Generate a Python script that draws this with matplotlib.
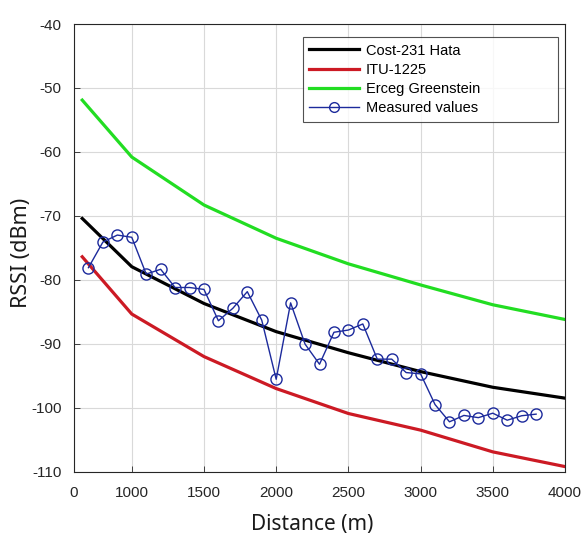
import matplotlib
matplotlib.use("Agg")
import matplotlib.pyplot as plt

plt.rcParams["axes.unicode_minus"] = False

# ---- data ----
model_dist = [657, 1000, 1500, 2000, 2500, 3000, 3500, 4000]
cost231 = [-70.4, -77.95, -83.7, -88.1, -91.4, -94.35, -96.8, -98.5]
itu1225 = [-76.4, -85.35, -92.0, -97.0, -100.9, -103.5, -106.9, -109.2]
erceg = [-51.9, -60.8, -68.3, -73.5, -77.5, -80.8, -83.9, -86.2]

meas_dist = list(range(700, 3900, 100))
measured = [-78.1, -74.1, -73.0, -73.35, -79.1, -78.35, -81.2, -81.2, -81.5,
            -86.4, -84.45, -81.85, -86.3, -95.55, -83.6, -90.05, -93.2,
            -88.2, -87.85, -86.9, -92.4, -92.4, -94.5, -94.7, -99.5,
            -102.2, -101.2, -101.55, -100.85, -101.95, -101.25, -101.0]

xtick_pos = [600, 1000, 1500, 2000, 2500, 3000, 3500, 4000]
xtick_labels = ["0", "1000", "1500", "2000", "2500", "3000", "3500", "4000"]
yticks = [-40, -50, -60, -70, -80, -90, -100, -110]

# ---- plot ----
fig = plt.figure(figsize=(5.84, 5.38), dpi=100)
ax = fig.add_axes([74/584, 1-471.7/538, (565-74)/584, (471.7-24)/538])

ax.plot(model_dist, cost231, color="#000000", lw=2.3, label="Cost-231 Hata")
ax.plot(model_dist, itu1225, color="#cc1a24", lw=2.3, label="ITU-1225")
ax.plot(model_dist, erceg, color="#22dd22", lw=2.3, label="Erceg Greenstein")
ax.plot(meas_dist, measured, color="#1c2a9c", lw=1.0, marker="o", ms=8,
        mfc="none", mec="#1c2a9c", mew=1.0, label="Measured values")

ax.set_xlim(600, 4000)
ax.set_ylim(-110, -40)
ax.set_xticks(xtick_pos)
ax.set_xticklabels(xtick_labels)
ax.set_yticks(yticks)

for lab in ax.get_xticklabels() + ax.get_yticklabels():
    lab.set_fontfamily("Liberation Sans")
    lab.set_fontsize(11)
    lab.set_color("#262626")

ax.tick_params(direction="in", length=4, width=0.6, color="#262626")
ax.tick_params(axis="x", pad=10)
ax.tick_params(axis="y", pad=9)
ax.grid(True, color="#d9d9d9", lw=0.8)
ax.set_axisbelow(True)
for s in ax.spines.values():
    s.set_linewidth(0.8)
    s.set_color("#262626")

ax.set_xlabel("Distance (m)", fontfamily="Noto Sans", fontsize=15, color="#1a1a1a")
ax.set_ylabel("RSSI (dBm)", fontfamily="Noto Sans", fontsize=15.5, color="#1a1a1a")
ax.xaxis.set_label_coords(0.486, -0.095)
ax.yaxis.set_label_coords(-0.086, 0.488)

leg = ax.legend(loc="upper left", bbox_to_anchor=(0.466, 0.971, 0.519, 0.0),
                mode="expand", prop={"family": "Liberation Sans", "size": 10.5},
                frameon=True, fancybox=False, edgecolor="#262626", handlelength=3.4,
                borderpad=0.45, labelspacing=0.36, handletextpad=0.45, borderaxespad=0)
leg.get_frame().set_linewidth(0.8)
for h in leg.legend_handles[3:]:
    h.set_markersize(7)

fig.savefig("out.png", dpi=100, facecolor="white")
